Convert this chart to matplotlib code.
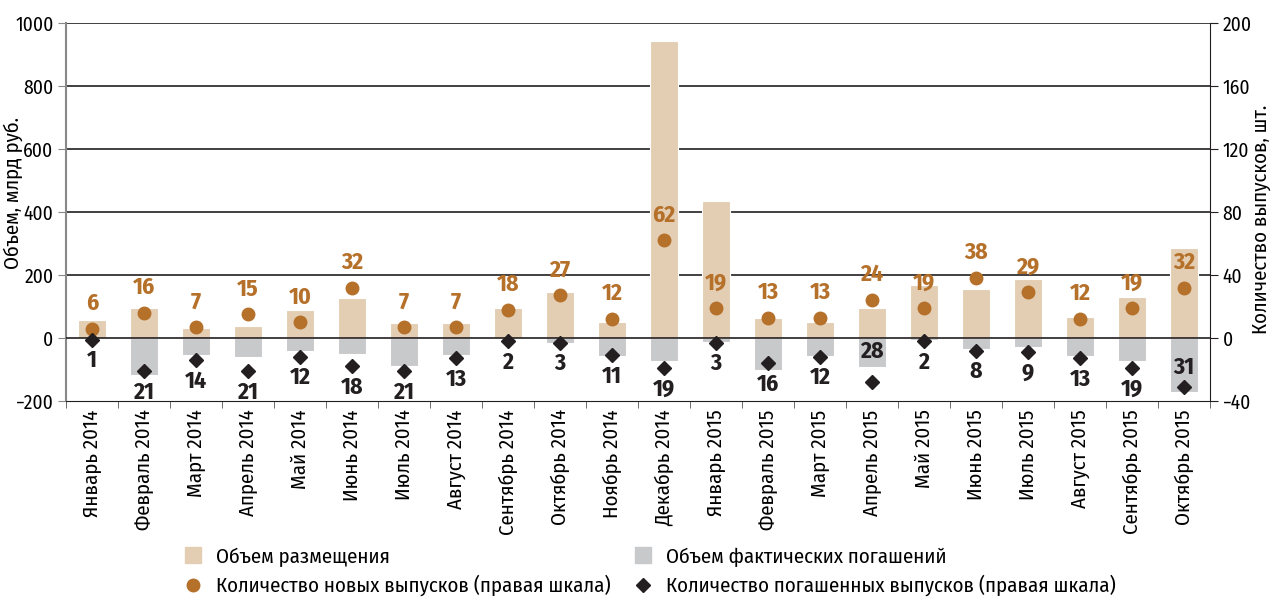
import matplotlib
matplotlib.use("Agg")
import matplotlib.pyplot as plt
from matplotlib.lines import Line2D
import numpy as np

plt.rcParams['font.family'] = ['Fira Sans Condensed', 'DejaVu Sans']

months = ["Январь 2014", "Февраль 2014", "Март 2014", "Апрель 2014", "Май 2014",
          "Июнь 2014", "Июль 2014", "Август 2014", "Сентябрь 2014", "Октябрь 2014",
          "Ноябрь 2014", "Декабрь 2014", "Январь 2015", "Февраль 2015", "Март 2015",
          "Апрель 2015", "Май 2015", "Июнь 2015", "Июль 2015", "Август 2015",
          "Сентябрь 2015", "Октябрь 2015"]
placement = [58, 96, 33, 39, 89, 128, 48, 48, 96, 145, 50, 944, 436, 65, 52, 94,
             167, 157, 186, 68, 131, 287]
redemption = [-3, -116, -55, -59, -42, -51, -88, -54, -3, -16, -58, -72, -14, -103,
              -58, -92, -7, -35, -29, -58, -72, -170]
new_issues = [6, 16, 7, 15, 10, 32, 7, 7, 18, 27, 12, 62, 19, 13, 13, 24, 19, 38,
              29, 12, 19, 32]
redeemed_issues = [1, 21, 14, 21, 12, 18, 21, 13, 2, 3, 11, 19, 3, 16, 12, 28, 2, 8,
                   9, 13, 19, 31]
# labels for redeemed issues placed above the marker instead of below
above_labels = {"Апрель 2015", "Октябрь 2015"}

TAN = "#E3CEB3"
GREY = "#C8C9CB"
ORANGE = "#B5702A"
DARK = "#231F20"
FS = 15
TFS = 14

fig = plt.figure(figsize=(12.73, 5.97), dpi=100)
ax = fig.add_axes([66/1273, 1-401/597, (1210-66)/1273, (401-23)/597])
ax2 = ax.twinx()

x = np.arange(len(months))
ax.bar(x, placement, width=0.54, color=TAN, edgecolor="white", linewidth=0.8, zorder=2)
ax.bar(x, redemption, width=0.54, color=GREY, edgecolor="white", linewidth=0.8, zorder=2)

ax.set_ylim(-200, 1000)
ax.set_yticks([-200, 0, 200, 400, 600, 800, 1000])
ax.set_yticklabels(["\u2212200", "0", "200", "400", "600", "800", "1000"])
for yv in [200, 400, 600, 800, 1000]:
    ax.axhline(yv, color=DARK, lw=1.2, zorder=1)
ax.axhline(0, color=DARK, lw=1.2, zorder=3)
ax.set_xlim(-0.5, len(months) - 0.5)

ax.set_xticks(x)
ax.set_xticklabels(months, rotation=90, fontsize=FS, va="top", ha="center")
ax.tick_params(axis="x", length=0, pad=6)
ax.set_xticks(np.arange(-0.5, len(months), 1), minor=True)
ax.tick_params(axis="x", which="minor", length=5, color="#555555", direction="out")
ax.tick_params(axis="y", labelsize=TFS, length=6, color="#888888", pad=3)

ax.spines["top"].set_visible(False)
ax.spines["left"].set_color("#888888")
ax.spines["left"].set_linewidth(1.5)
ax.spines["bottom"].set_color(DARK)
ax.spines["right"].set_visible(False)

ax2.set_ylim(-40, 200)
ax2.set_yticks([-40, 0, 40, 80, 120, 160, 200])
ax2.set_yticklabels(["\u221240", "0", "40", "80", "120", "160", "200"])
ax2.tick_params(axis="y", labelsize=TFS, length=6, color=DARK, pad=3)
ax2.spines["top"].set_visible(False)
ax2.spines["left"].set_visible(False)
ax2.spines["bottom"].set_visible(False)
ax2.spines["right"].set_color(DARK)

ax.set_ylabel("Объем, млрд руб.", fontsize=FS)
ax.yaxis.set_label_coords((23 - 66) / 1144, 0.55)
ax2.set_ylabel("Количество выпусков, шт.", fontsize=FS, rotation=90)
ax2.yaxis.set_label_coords((1251 - 66) / 1144, 0.48)

neg_red = [-v for v in redeemed_issues]
ax2.plot(x, new_issues, linestyle="none", marker="o", markersize=9,
         color=ORANGE, zorder=5)
ax2.plot(x, neg_red, linestyle="none", marker="D", markersize=7,
         color=DARK, zorder=5)

for xi, v in zip(x, new_issues):
    ax2.annotate(str(v), (xi, v), xytext=(0, 10), textcoords="offset points",
                 ha="center", va="bottom", fontsize=17, fontweight="bold",
                 color=ORANGE, zorder=6)
for xi, v, m in zip(x, redeemed_issues, months):
    if m in above_labels:
        off = 22 if m == "Апрель 2015" else 14
        ax2.annotate(str(v), (xi, -v), xytext=(0, off), textcoords="offset points",
                     ha="center", va="center", fontsize=17, fontweight="bold",
                     color=DARK, zorder=6)
    else:
        ax2.annotate(str(v), (xi, -v), xytext=(0, -15), textcoords="offset points",
                     ha="center", va="center", fontsize=17, fontweight="bold",
                     color=DARK, zorder=6)

handles = [
    Line2D([], [], linestyle="none", marker="s", markersize=12, color=TAN),
    Line2D([], [], linestyle="none", marker="o", markersize=9, color=ORANGE),
    Line2D([], [], linestyle="none", marker="s", markersize=12, color=GREY),
    Line2D([], [], linestyle="none", marker="D", markersize=7, color=DARK),
]
labels = ["Объем размещения", "Количество новых выпусков (правая шкала)",
          "Объем фактических погашений", "Количество погашенных выпусков (правая шкала)"]
fig.legend(handles, labels, ncol=2, loc="upper left",
           bbox_to_anchor=(183/1273, 1-547/597), frameon=False, fontsize=FS,
           handlelength=1.0, handletextpad=0.6, columnspacing=1.05,
           labelspacing=0.4, borderaxespad=0, borderpad=0)

fig.savefig("out.png", dpi=100)
